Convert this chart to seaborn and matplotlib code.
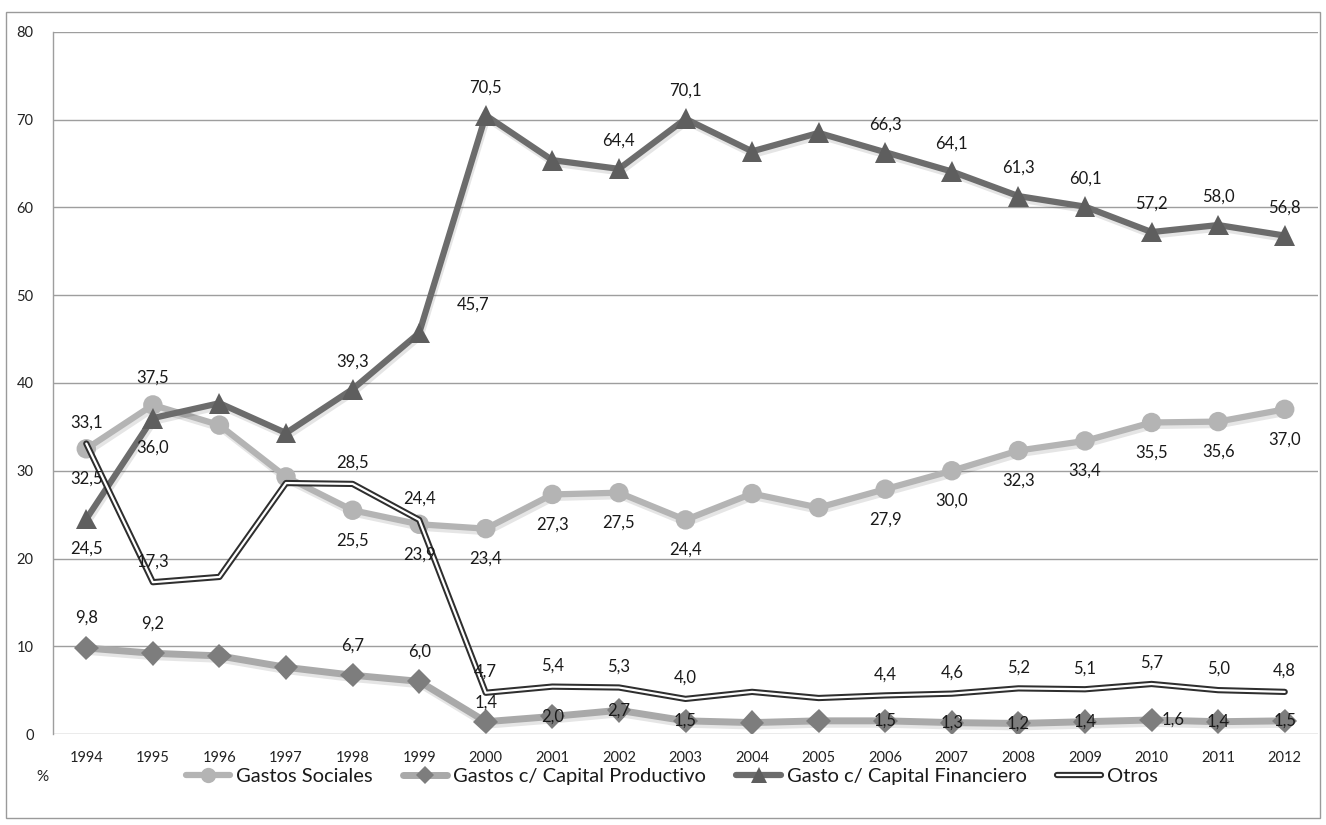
import matplotlib
matplotlib.use('Agg')
import matplotlib.pyplot as plt
import matplotlib.patheffects as pe
from matplotlib.lines import Line2D
from matplotlib.patches import Rectangle
import seaborn as sns
import pandas as pd

# ---------------- data ----------------
years = ['1994', '1995', '1996', '1997', '1998', '1999', '2000', '2001', '2002', '2003',
         '2004', '2005', '2006', '2007', '2008', '2009', '2010', '2011', '2012']
sociales = [32.5, 37.5, 35.2, 29.3, 25.5, 23.9, 23.4, 27.3, 27.5, 24.4,
            27.4, 25.8, 27.9, 30.0, 32.3, 33.4, 35.5, 35.6, 37.0]
productivo = [9.8, 9.2, 8.9, 7.6, 6.7, 6.0, 1.4, 2.0, 2.7, 1.5,
              1.3, 1.5, 1.5, 1.3, 1.2, 1.4, 1.6, 1.4, 1.5]
financiero = [24.5, 36.0, 37.7, 34.3, 39.3, 45.7, 70.5, 65.4, 64.4, 70.1,
              66.4, 68.5, 66.3, 64.1, 61.3, 60.1, 57.2, 58.0, 56.8]
otros = [33.1, 17.3, 17.9, 28.6, 28.5, 24.4, 4.7, 5.4, 5.3, 4.0,
         4.8, 4.1, 4.4, 4.6, 5.2, 5.1, 5.7, 5.0, 4.8]
series_names = ['Gastos Sociales', 'Gastos c/ Capital Productivo',
                'Gasto c/ Capital Financiero', 'Otros']
y_ticks = [0, 10, 20, 30, 40, 50, 60, 70, 80]

# which points carry a value label ('' = none) and where
sociales_lbl = ['b', 'a', '', '', 'b', 'b', 'b', 'b', 'b', 'b', '', '', 'b', 'b', 'b', 'b', 'b', 'b', 'b']
productivo_lbl = ['a', 'a', '', '', 'a', 'a', 'a2', 'c', 'c', 'c', '', '', 'c', 'c', 'c', 'c', 'r', 'c', 'c']
financiero_lbl = ['b', 'b', '', '', 'a', 'ar', 'a', '', 'a', 'a', '', '', 'a', 'a', 'a', 'a', 'a', 'a', 'a']
otros_lbl = ['a', 'a', '', '', 'a', 'a', 'a', 'a', 'a', 'a', '', '', 'a', 'a', 'a', 'a', 'a', 'a', 'a']

# ---------------- style ----------------
sns.set_theme(style='white')
FONT = ['Lato', 'DejaVu Sans']
plt.rcParams['font.family'] = FONT

fig = plt.figure(figsize=(13.26, 8.25), dpi=100)
ax = fig.add_axes([53 / 1326, 1 - 734 / 825, (1318 - 53) / 1326, (734 - 32) / 825])

# outer border
fig.patches.append(Rectangle((6 / 1326, 1 - 818 / 825), 1314 / 1326, 806 / 825,
                             transform=fig.transFigure, fill=False,
                             edgecolor='#9a9a9a', linewidth=1.0, zorder=-1))

df = pd.DataFrame({'year': years, 'Sociales': sociales, 'Productivo': productivo,
                   'Financiero': financiero, 'Otros': otros})

shadow = [pe.SimpleLineShadow(offset=(1, -2.5), alpha=0.10, shadow_color='black'), pe.Normal()]

c_soc = '#b4b4b4'
c_prod_line = '#a9a9a9'
c_prod_mk = '#7d7d7d'
c_fin = '#6c6c6c'
c_fin_mk = '#5e5e5e'

sns.lineplot(data=df, x='year', y='Sociales', ax=ax, sort=False, color=c_soc,
             linewidth=4.5, marker='o', markersize=14, markeredgewidth=0,
             markerfacecolor=c_soc, zorder=3, path_effects=shadow)
sns.lineplot(data=df, x='year', y='Productivo', ax=ax, sort=False, color=c_prod_line,
             linewidth=5, marker='D', markersize=12.5, markeredgewidth=0,
             markerfacecolor=c_prod_mk, zorder=3, path_effects=shadow)
sns.lineplot(data=df, x='year', y='Financiero', ax=ax, sort=False, color=c_fin,
             linewidth=4.5, marker='^', markersize=15, markeredgewidth=0,
             markerfacecolor=c_fin_mk, zorder=4, path_effects=shadow)
otros_pe = [pe.Stroke(linewidth=4.5, foreground='#2e2e2e'), pe.Normal()]
sns.lineplot(data=df, x='year', y='Otros', ax=ax, sort=False, color='white',
             linewidth=1.6, zorder=5, path_effects=otros_pe)

ax.set_ylim(0, 80)
ax.set_xlim(-0.5, len(years) - 0.5)
ax.set_yticks(y_ticks)
ax.set_yticklabels([str(t) for t in y_ticks], fontsize=10.5, color='#222222')
ax.tick_params(axis='x', labelsize=10.5, colors='#222222', length=0, pad=12)
ax.tick_params(axis='y', length=0, pad=14)
ax.set_xlabel('')
ax.set_ylabel('')
ax.yaxis.grid(True, color='#9e9e9e', linewidth=1.0)
ax.xaxis.grid(False)
for s in ['top', 'right', 'bottom']:
    ax.spines[s].set_visible(False)
ax.spines['left'].set_color('#9e9e9e')
ax.spines['left'].set_linewidth(1.0)

# ---------------- value labels ----------------
PX = 0.72  # px -> points at 100 dpi
offsets = {
    'soc': {'a': (0, 27), 'b': (0, -30)},
    'prod': {'a': (0, 30), 'a2': (0, 19), 'c': (0, 0), 'r': (22, 0)},
    'fin': {'a': (0, 28), 'b': (0, -30), 'ar': (54, 28)},
    'otr': {'a': (0, 21)},
}


def fmt(v):
    return f'{v:.1f}'.replace('.', ',')


for key, vals, lbls in [('soc', sociales, sociales_lbl), ('prod', productivo, productivo_lbl),
                        ('fin', financiero, financiero_lbl), ('otr', otros, otros_lbl)]:
    for i, (v, code) in enumerate(zip(vals, lbls)):
        if not code:
            continue
        dx, dy = offsets[key][code]
        ax.annotate(fmt(v), xy=(i, v), xytext=(dx * PX, dy * PX), textcoords='offset points',
                    ha='center', va='center', fontsize=12, color='#1a1a1a', zorder=10)

# ---------------- legend ----------------
handles = [
    Line2D([], [], color=c_soc, linewidth=4.5, marker='o', markersize=11,
           markerfacecolor=c_soc, markeredgewidth=0),
    Line2D([], [], color=c_prod_line, linewidth=5, marker='D', markersize=9,
           markerfacecolor=c_prod_mk, markeredgewidth=0),
    Line2D([], [], color=c_fin, linewidth=4.5, marker='^', markersize=11,
           markerfacecolor=c_fin_mk, markeredgewidth=0),
    Line2D([], [], color='white', linewidth=1.6,
           path_effects=[pe.Stroke(linewidth=4.5, foreground='#2e2e2e'), pe.Normal()]),
]
fig.legend(handles, series_names, loc='center', bbox_to_anchor=(672 / 1326, 1 - 776 / 825),
           ncol=4, frameon=False, fontsize=14.5, handlelength=2.2, handletextpad=0.3,
           columnspacing=1.5, labelcolor='#1a1a1a')
fig.text(42 / 1326, 1 - 777 / 825, '%', ha='center', va='center', fontsize=11, color='#222222')

fig.savefig('out.png', dpi=100)
